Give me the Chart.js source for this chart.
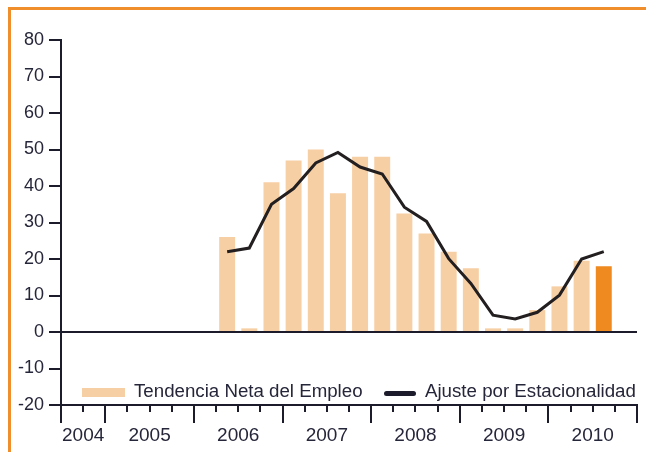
<!DOCTYPE html>
<html>
<head>
<meta charset="utf-8">
<script src="https://cdn.jsdelivr.net/npm/chart.js@4/dist/chart.umd.min.js"></script>
<style>
  html, body { margin: 0; padding: 0; background: #ffffff; }
  #wrap { position: relative; width: 646px; height: 452px; overflow: hidden; }
  #frame { position: absolute; left: 8px; top: 7px; width: 700px; height: 500px;
           border-top: 3px solid #EF8E2B; border-left: 3px solid #EF8E2B; pointer-events: none; }
  canvas { position: absolute; left: 0; top: 0; }
</style>
</head>
<body>
<div id="wrap">
  <canvas id="c" width="646" height="452"></canvas>
  <div id="frame"></div>
</div>
<script>
// Quarterly categories (third quarter of 2004 to fourth quarter of 2010)
const quarters = [
  '2004 T3','2004 T4',
  '2005 T1','2005 T2','2005 T3','2005 T4',
  '2006 T1','2006 T2','2006 T3','2006 T4',
  '2007 T1','2007 T2','2007 T3','2007 T4',
  '2008 T1','2008 T2','2008 T3','2008 T4',
  '2009 T1','2009 T2','2009 T3','2009 T4',
  '2010 T1','2010 T2','2010 T3','2010 T4'
];
const yearLabels = ['2004','2005','2006','2007','2008','2009','2010'];

// Tendencia Neta del Empleo (bars)
const tendencia = [
  null, null,
  null, null, null, null,
  null, 26, 1, 41,
  47, 50, 38, 48,
  48, 32.5, 27, 22,
  17.5, 1, 1, 6,
  12.5, 19.5, 18, null
];
// Ajuste por Estacionalidad (line)
const ajuste = [
  null, null,
  null, null, null, null,
  null, 22, 23, 35,
  39.3, 46.3, 49.2, 45.2,
  43.3, 34.2, 30.3, 20.1,
  13.3, 4.6, 3.6, 5.4,
  10.1, 20, 22, null
];
const yTicks = [-20, -10, 0, 10, 20, 30, 40, 50, 60, 70, 80];

const seriesNames = ['Tendencia Neta del Empleo', 'Ajuste por Estacionalidad'];

const BAR_LIGHT = '#F7CFA4';
const BAR_LAST = '#EE8A20';
const LINE_COLOR = '#231F20';
const AXIS_COLOR = '#1B1B2C';
const TEXT_COLOR = '#26263A';
const FONT_FAMILY = "'Liberation Sans', Arial, Helvetica, sans-serif";

const lastIdx = tendencia.reduce((acc, v, i) => (v !== null ? i : acc), -1);
const barColors = tendencia.map((v, i) => (i === lastIdx ? BAR_LAST : BAR_LIGHT));

const xAxisPlugin = {
  id: 'xAxisPlugin',
  afterDraw(chart) {
    const ctx = chart.ctx;
    const xs = chart.scales.x;
    const ys = chart.scales.y;
    const n = quarters.length;
    const step = xs.getPixelForValue(1) - xs.getPixelForValue(0);
    const bound = i => xs.getPixelForValue(i) - step / 2;
    const yBase = ys.getPixelForValue(ys.min);
    ctx.save();
    ctx.strokeStyle = AXIS_COLOR;
    ctx.lineWidth = 2;
    ctx.beginPath();
    ctx.moveTo(bound(0) - 1, yBase);
    ctx.lineTo(bound(n) + 1, yBase);
    ctx.stroke();
    const yr = i => quarters[i].slice(0, 4);
    const majors = [];
    for (let i = 0; i <= n; i++) {
      const major = i === 0 || i === n || yr(i) !== yr(i - 1);
      if (major) majors.push(i);
      const x = Math.round(bound(i));
      ctx.beginPath();
      ctx.moveTo(x, yBase);
      ctx.lineTo(x, yBase + (major ? 18 : 7));
      ctx.stroke();
    }
    ctx.fillStyle = TEXT_COLOR;
    ctx.font = '19px ' + FONT_FAMILY;
    ctx.textAlign = 'center';
    ctx.textBaseline = 'middle';
    for (let k = 0; k < majors.length - 1; k++) {
      const cx = (bound(majors[k]) + bound(majors[k + 1])) / 2;
      ctx.fillText(yr(majors[k]), cx, yBase + 31);
    }
    ctx.restore();
  }
};

const legendPlugin = {
  id: 'legendPlugin',
  afterDraw(chart) {
    const ctx = chart.ctx;
    ctx.save();
    ctx.font = '18.7px ' + FONT_FAMILY;
    ctx.fillStyle = TEXT_COLOR;
    ctx.textBaseline = 'alphabetic';
    ctx.textAlign = 'left';
    // bar swatch
    ctx.fillStyle = BAR_LIGHT;
    ctx.fillRect(82, 388, 43, 9);
    ctx.fillStyle = TEXT_COLOR;
    ctx.fillText(seriesNames[0], 134, 397);
    // line swatch
    ctx.strokeStyle = AXIS_COLOR;
    ctx.lineWidth = 5;
    ctx.lineCap = 'round';
    ctx.beginPath();
    ctx.moveTo(386.5, 393.5);
    ctx.lineTo(413.5, 393.5);
    ctx.stroke();
    ctx.fillText(seriesNames[1], 425, 397);
    ctx.restore();
  }
};

new Chart(document.getElementById('c'), {
  data: {
    labels: quarters,
    datasets: [
      {
        type: 'line',
        label: seriesNames[1],
        data: ajuste,
        borderColor: LINE_COLOR,
        borderWidth: 3,
        pointRadius: 0,
        tension: 0,
        fill: false,
        order: 0
      },
      {
        type: 'bar',
        label: seriesNames[0],
        data: tendencia,
        backgroundColor: barColors,
        borderWidth: 0,
        barPercentage: 0.72,
        categoryPercentage: 1,
        order: 1
      }
    ]
  },
  options: {
    responsive: false,
    devicePixelRatio: 1,
    animation: false,
    events: [],
    layout: { padding: { left: 0, right: 9, top: 40, bottom: 47 } },
    plugins: {
      legend: { display: false },
      tooltip: { enabled: false },
      title: { display: false }
    },
    scales: {
      x: {
        type: 'category',
        display: false,
        offset: true
      },
      y: {
        type: 'linear',
        position: 'left',
        min: -20,
        max: 80,
        z: 1,
        afterFit(scale) { scale.width = 61; },
        afterBuildTicks(scale) { scale.ticks = yTicks.map(v => ({ value: v })); },
        ticks: {
          color: TEXT_COLOR,
          font: { family: FONT_FAMILY, size: 18 },
          padding: 5
        },
        grid: {
          drawOnChartArea: true,
          color: c => (c.tick && c.tick.value === 0 ? AXIS_COLOR : 'rgba(0,0,0,0)'),
          lineWidth: 2,
          tickLength: 12,
          tickColor: AXIS_COLOR,
          tickWidth: 2
        },
        border: { display: true, color: AXIS_COLOR, width: 2 }
      }
    }
  },
  plugins: [xAxisPlugin, legendPlugin]
});
</script>
</body>
</html>
